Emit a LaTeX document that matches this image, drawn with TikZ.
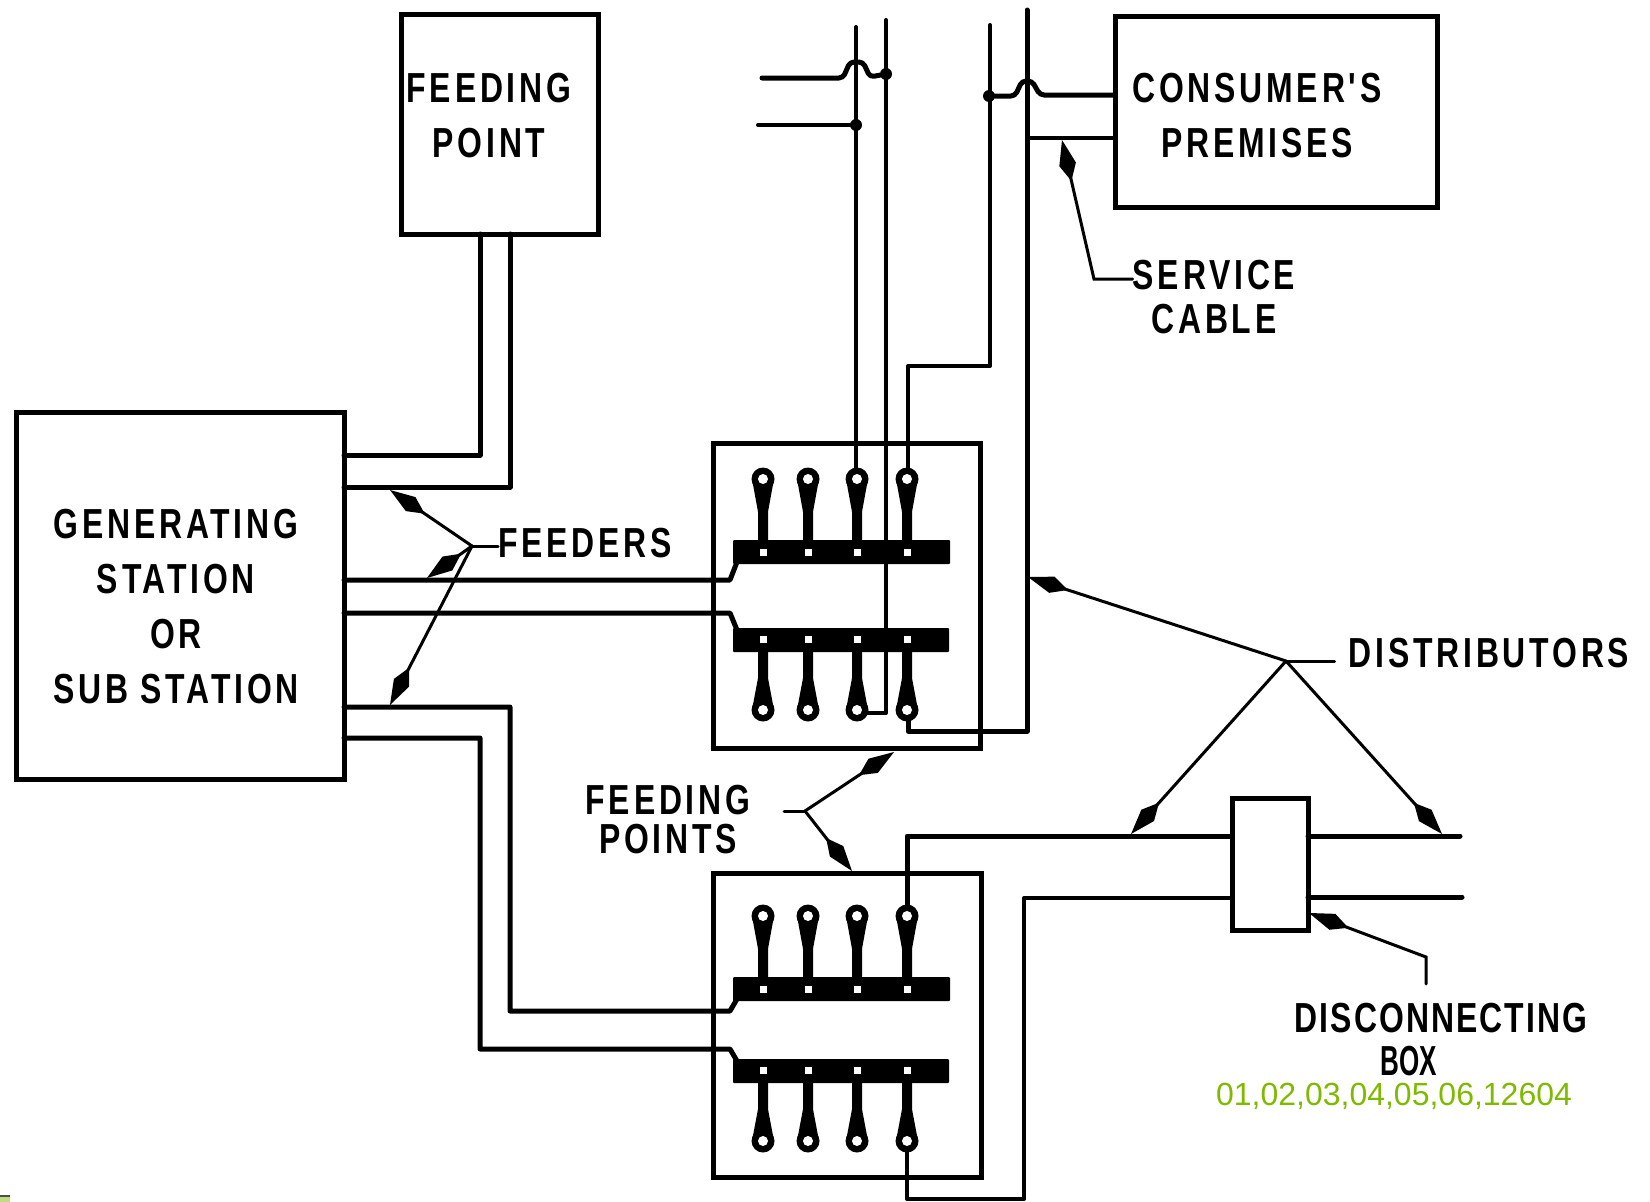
\documentclass[tikz,border=0pt]{standalone}
\usepackage{fontspec}
\usetikzlibrary{arrows.meta}
\newfontfamily\labelfont[FakeStretch=0.76,LetterSpace=9]{Liberation Sans Bold}
\newfontfamily\tightfont[FakeStretch=0.76,LetterSpace=5]{Liberation Sans Bold}
\newfontfamily\boxfont[FakeStretch=0.62]{Liberation Sans Bold}
\newfontfamily\stampfont{Liberation Sans}
\definecolor{stampgreen}{HTML}{7FBA00}
\tikzset{>=latex}
\tikzset{every text node part/.style={align=center}}
\tikzset{
	unit/.style={draw, line width=5pt, outer sep=0pt, inner sep=0pt},
	wire/.style={line width=5pt, line join=round},
	thinwire/.style={line width=4pt, line join=round},
	leader/.style={line width=3pt, -{Kite[length=42pt,width=17pt,inset=17pt]}},
	stub/.style={line width=3pt},
	lbl/.style={font=\labelfont\fontsize{42}{55}\selectfont, inner sep=0pt},
	tightlbl/.style={font=\tightfont\fontsize{42}{55}\selectfont, inner sep=0pt},
	boxlbl/.style={font=\boxfont\fontsize{42}{55}\selectfont, inner sep=0pt},
	joint/.style={circle, fill=black, minimum size=12pt, inner sep=0pt}
}
% One fuse: column, centre of its blob, square in the bus
\newcommand{\fuselink}[3]{%
	\pgfmathsetmacro{\blob}{#2}
	\pgfmathsetmacro{\bus}{#3}
	\pgfmathsetmacro{\neck}{\blob+0.45*(\bus-\blob)}
	\fill (#1,\blob) circle (11.5pt);
	\fill (#1-11,\blob) -- (#1-5,\neck) -- (#1-5,\bus) -- (#1+5,\bus) -- (#1+5,\neck) -- (#1+11,\blob) -- cycle;
	\fill[white] (#1,\blob) circle (5pt);
	\fill[white] (#1-3.5,\bus-3.5) rectangle (#1+3.5,\bus+3.5);
}
% Two bus bars and their fuses: name, top of upper bar, top of lower bar
\newcommand{\feedpanel}[3]{%
	\fill[rounded corners=1pt] (733,#2) rectangle (950,#2+24);
	\fill[rounded corners=1pt] (733,#3) rectangle (949,#3+24);
	\coordinate (#1up) at (737,#2+22);
	\coordinate (#1low) at (737,#3+2);
	\foreach \x in {763,808,857,907}
	{
		\fuselink{\x}{#2-61}{#2+12}
		\fuselink{\x}{#3+82}{#3+11}
	}
}

\begin{document}
\begin{tikzpicture}[x=1pt, y=-1pt, line cap=round]
	\useasboundingbox (0,0) rectangle (1650,1202);
	
	% Boxes
	\node[unit, minimum width=328pt, minimum height=367pt] (genbox) at (180,595.5) {};
	\node[unit, minimum width=197pt, minimum height=220pt] (fedbox) at (499.5,124) {};
	\node[unit, minimum width=322pt, minimum height=191pt] (conbox) at (1276,111.5) {};
	\node[unit, minimum width=267pt, minimum height=305pt] (panA) at (846.5,595.5) {};
	\node[unit, minimum width=268pt, minimum height=304pt] (panB) at (847,1025) {};
	\node[unit, minimum width=76pt, minimum height=132pt] (disbox) at (1270,864) {};
	
	% Distributors, upper panel
	\draw[thinwire] (856,27) -- (856,478);
	\draw[thinwire] (886,20) -- (886,713) -- (857,713);
	\draw[thinwire] (990,25) -- (990,366) -- (908,366) -- (908,478);
	\draw[wire] (1027,10) -- (1027,731) -- (908,731) -- (908,710);
	
	% Distributors, lower panel
	\draw[wire] (907,917) -- (907,836) -- (disbox.west |- 0,836);
	\draw[wire] (disbox.east |- 0,836) -- (1460,836);
	\draw[thinwire] (disbox.west |- 0,898) -- (1024,898) -- (1024,1199) -- (907,1199) -- (907,1142);
	\draw[wire] (disbox.east |- 0,897) -- (1462,897);
	
	% Bus bars
	\feedpanel{panA}{540}{628}
	\feedpanel{panB}{977}{1059}
	
	% Feeders
	\draw[wire] (genbox.east |- 0,455) -| (fedbox.south -| 480,0);
	\draw[wire] (genbox.east |- 0,487) -| (fedbox.south -| 510,0);
	\draw[wire] (genbox.east |- 0,580) -- (730,580) -- (panAup);
	\draw[wire] (genbox.east |- 0,613) -- (730,613) -- (panAlow);
	\draw[wire] (genbox.east |- 0,707) -- (510,707) -- (510,1011) -- (730,1011) -- (panBup);
	\draw[wire] (genbox.east |- 0,738) -- (480,738) -- (480,1049) -- (730,1049) -- (panBlow);
	
	% Service connections with their humps
	\node[joint] (jointa) at (886,74) {};
	\node[joint] (jointb) at (856,125) {};
	\node[joint] (jointc) at (989,96) {};
	\draw[wire, rounded corners=4pt] (762,78) -- (843,78) -- (850,62) -- (863,62) -- (870,77) -- (jointa);
	\draw[thinwire] (758,125) -- (jointb);
	\draw[wire, rounded corners=4pt] (jointc) -- (1015,96) -- (1022,81) -- (1032,81) -- (1040,95) -- (conbox.west |- 0,95);
	\draw[thinwire] (1027,138) -- (conbox.west |- 0,138);
	
	% Names
	\node[lbl] (gentext) at (176,607) {GENERATING\\STATION\\OR\\SUB STATION};
	\node[lbl] (fedtext) at (489,116) {FEEDING\\POINT};
	\node[lbl] (context) at (1257,116) {CONSUMER'S\\PREMISES};
	\node[lbl] (sertext) at (1214,297) {SERVICE\\[-11pt]CABLE};
	\node[lbl] (feetext) at (585,543) {FEEDERS};
	\node[lbl] (distext) at (1489,653) {DISTRIBUTORS};
	\node[lbl] (pttext) at (668,820) {FEEDING\\[-16pt]POINTS};
	\node[tightlbl] (boxtexta) at (1441,1018) {DISCONNECTING};
	\node[boxlbl] (boxtextb) at (1409,1061) {BOX};
	
	% Leaders
	\coordinate (feejoin) at (472,546);
	\draw[stub] (feetext.west |- feejoin) -- (feejoin);
	\coordinate (feetipa) at (390,490);
	\coordinate (feetipb) at (427,578);
	\coordinate (feetipc) at (390,705);
	\draw[leader] (feejoin) -- (feetipa);
	\draw[leader] (feejoin) -- (feetipb);
	\draw[leader] (feejoin) -- (feetipc);
	
	\coordinate (disjoin) at (1286,661);
	\draw[stub, shorten <=14pt] (distext.west |- disjoin) -- (disjoin);
	\coordinate (distipa) at (1028,577);
	\coordinate (distipb) at (1131,834);
	\coordinate (distipc) at (1442,834);
	\draw[leader] (disjoin) -- (distipa);
	\draw[leader] (disjoin) -- (distipb);
	\draw[leader] (disjoin) -- (distipc);
	
	\coordinate (ptjoin) at (805,811);
	\coordinate (ptstub) at (784,811);
	\draw[stub] (ptstub) -- (ptjoin);
	\coordinate (pttipa) at (894,752);
	\coordinate (pttipb) at (852,871);
	\draw[leader] (ptjoin) -- (pttipa);
	\draw[leader] (ptjoin) -- (pttipb);
	
	\coordinate (sertip) at (1062,140);
	\coordinate (serbend) at (1094,279);
	\draw[leader] (sertext.west |- serbend) -- (serbend) -- (sertip);
	
	\coordinate (boxtip) at (1309,913);
	\coordinate (boxbend) at (1426,957);
	\coordinate (boxend) at (1426,984);
	\draw[leader] (boxend) -- (boxbend) -- (boxtip);
	
	% Stamp
	\node[text=stampgreen, font=\stampfont\fontsize{32}{38}\selectfont, inner sep=0pt] (stamp) at (1394,1096) {01,02,03,04,05,06,12604};
	\fill[black!70] (0,1195) rectangle (10,1197);
	\fill[stampgreen!50] (0,1197) rectangle (10,1202);
\end{tikzpicture}
\end{document}
